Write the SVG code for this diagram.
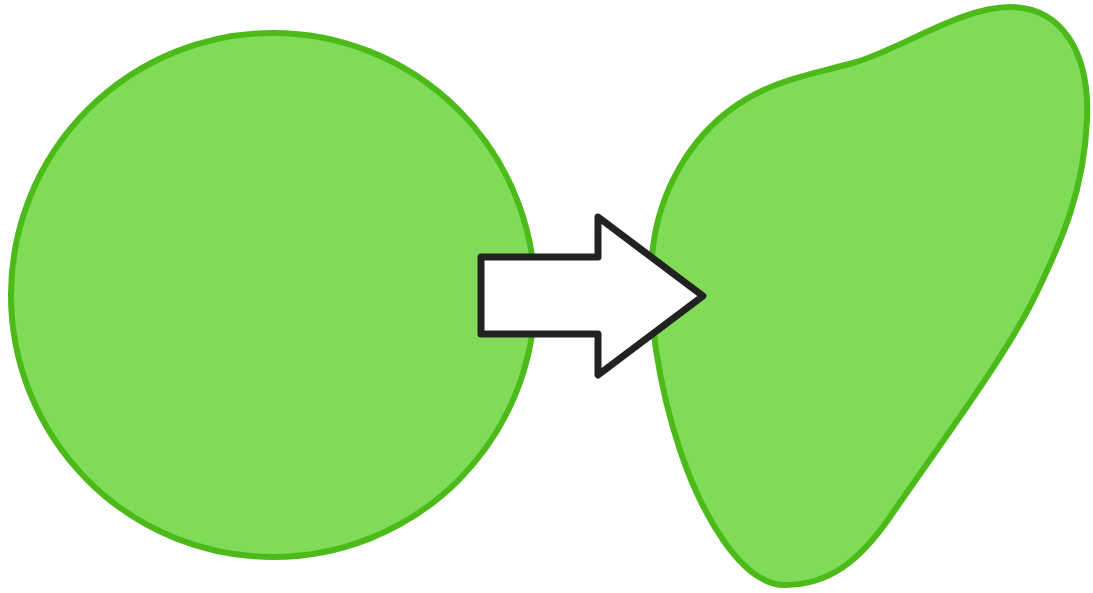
<svg xmlns="http://www.w3.org/2000/svg" width="1093" height="593" viewBox="0 0 1093 593">
<style>
.shape{fill:#80dc58;stroke:#4cbb1a;stroke-width:6}
.arrow{fill:#ffffff;stroke:#222222;stroke-width:7;stroke-linejoin:round}
</style>
<rect width="1093" height="593" fill="#ffffff"/>
<g id="circle">
<circle class="shape" cx="273" cy="295" r="262"/>
</g>
<g id="blob">
<path class="shape" d="M 1010 7 C 1060 7, 1090 50, 1087 120 C 1084 190, 1062 240, 1038 290 C 1010 350, 950 430, 890 517 C 860 560, 830 585, 785 585 C 740 585, 700 510, 680 450 C 660 390, 645 310, 653 247 C 660 190, 690 140, 730 110 C 770 80, 810 75, 853 63 C 900 50, 960 7, 1010 7 Z"/>
</g>
<g id="connectors">
<path class="arrow" d="M 481 257 L 598 257 L 598 217 L 703 296 L 598 375 L 598 334 L 481 334 Z"/>
</g>
</svg>
